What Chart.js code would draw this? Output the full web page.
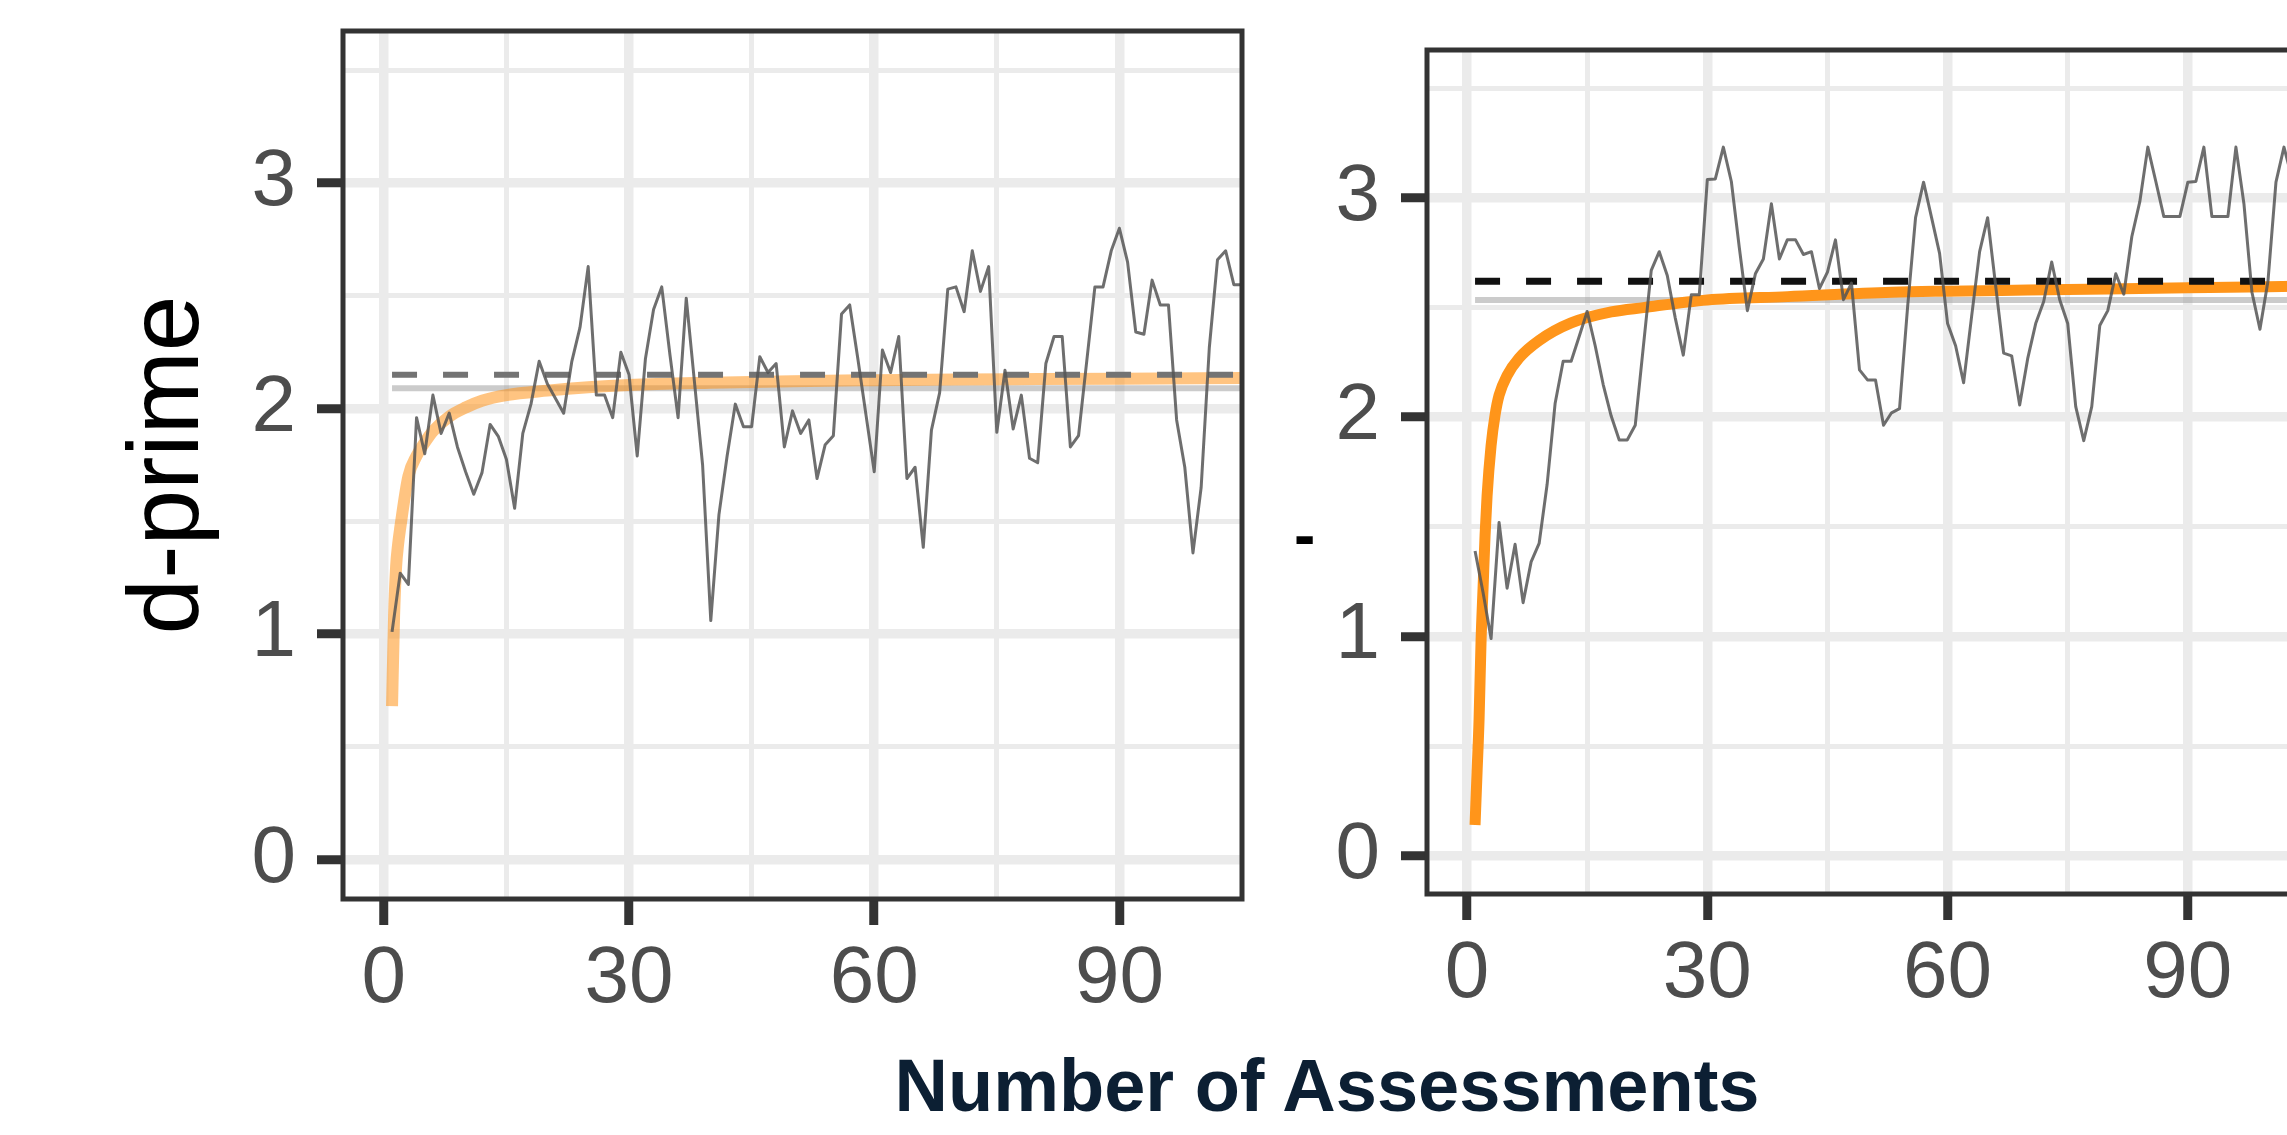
<!DOCTYPE html>
<html>
<head>
<meta charset="utf-8">
<script src="https://cdn.jsdelivr.net/npm/chart.js@4.4.1/dist/chart.umd.min.js"></script>
<style>
  html, body { margin: 0; padding: 0; width: 2287px; height: 1135px; overflow: hidden; background: #fff; }
  canvas { position: absolute; top: 0; }
  #chart1 { left: 0; }
  #chart2 { left: 1180px; }
  .label { position: absolute; font-family: 'Liberation Sans', Arial, sans-serif; line-height: 1; white-space: nowrap; }
  #xTitle { left: 727px; width: 1200px; top: 1049px; text-align: center; font-size: 74px; font-weight: bold; color: #0c1f33; }
  #stray { left: 1294px; top: 503px; font-size: 64px; font-weight: bold; color: #000; }
</style>
</head>
<body>
<canvas id="chart1" width="1270" height="1135"></canvas>
<canvas id="chart2" width="1150" height="1135"></canvas>
<div id="xTitle" class="label">Number of Assessments</div>
<div id="stray" class="label">-</div>
<script>
// axis breaks (minor breaks carry an empty label)
const xBreaks = [0, 15, 30, 45, 60, 75, 90];
const xLabels = ['0', '', '30', '', '60', '', '90'];
const yBreaks = [0, 0.5, 1, 1.5, 2, 2.5, 3, 3.5];
const yLabels = ['0', '', '1', '', '2', '', '3', ''];

// observed d-prime per assessment (assessment 1, 2, 3 ...)
const dprimeLeft = [
  1.01, 1.27, 1.22, 1.96, 1.80, 2.06, 1.89, 1.98, 1.83, 1.72,
  1.62, 1.715, 1.93, 1.877, 1.774, 1.558, 1.89, 2.02, 2.21, 2.11,
  2.045, 1.98, 2.21, 2.36, 2.63, 2.06, 2.06, 1.96, 2.25, 2.15,
  1.79, 2.22, 2.44, 2.54, 2.24, 1.96, 2.49, 2.12, 1.75, 1.06,
  1.53, 1.79, 2.02, 1.92, 1.92, 2.23, 2.16, 2.20, 1.83, 1.99,
  1.89, 1.95, 1.69, 1.84, 1.88, 2.42, 2.46, 2.22, 1.97, 1.72,
  2.26, 2.16, 2.32, 1.69, 1.74, 1.385, 1.905, 2.07, 2.53, 2.54,
  2.43, 2.70, 2.52, 2.63, 1.895, 2.17, 1.91, 2.06, 1.78, 1.76,
  2.20, 2.32, 2.32, 1.83, 1.88, 2.21, 2.54, 2.54, 2.70, 2.80,
  2.65, 2.34, 2.33, 2.57, 2.46, 2.46, 1.95, 1.74, 1.36, 1.65,
  2.27, 2.66, 2.70, 2.55, 2.55
];
const dprimeRight = [
  1.39, 1.20, 0.99, 1.52, 1.22, 1.42, 1.154, 1.34, 1.424, 1.694,
  2.064, 2.255, 2.255, 2.368, 2.482, 2.326, 2.149, 2.005, 1.896, 1.896,
  1.963, 2.317, 2.67, 2.755, 2.646, 2.452, 2.283, 2.558, 2.558, 3.084,
  3.087, 3.232, 3.075, 2.772, 2.486, 2.654, 2.722, 2.974, 2.722, 2.81,
  2.81, 2.742, 2.755, 2.587, 2.662, 2.809, 2.536, 2.612, 2.216, 2.17,
  2.17, 1.963, 2.02, 2.039, 2.50, 2.91, 3.072, 2.91, 2.747, 2.427,
  2.326, 2.157, 2.46, 2.755, 2.91, 2.60, 2.292, 2.28, 2.056, 2.267,
  2.427, 2.528, 2.708, 2.536, 2.427, 2.048, 1.893, 2.048, 2.418, 2.486,
  2.654, 2.561, 2.823, 2.983, 3.232, 3.075, 2.915, 2.915, 2.915, 3.072,
  3.075, 3.232, 2.915, 2.915, 2.915, 3.232, 2.974, 2.57, 2.401, 2.62,
  3.072, 3.232, 3.09
];

// fitted learning curves, read at sample points
const fitXLeft = [1, 1.25, 1.5, 1.75, 2, 3, 4, 5, 6, 8, 10, 12, 15, 20, 25, 30, 40, 50, 60, 70, 80, 90, 100, 105];
const fitYLeft = [0.68, 1.08, 1.30, 1.40, 1.47, 1.70, 1.79, 1.85, 1.90, 1.965, 2.005, 2.035, 2.06, 2.08, 2.095, 2.105, 2.115, 2.122, 2.126, 2.129, 2.131, 2.133, 2.135, 2.136];
const fitXRight = [1, 1.25, 1.5, 1.75, 2, 2.25, 2.5, 3, 3.5, 4, 5, 6.5, 9, 13, 18, 22, 30, 40, 53, 60, 70, 80, 90, 100, 105];
const fitYRight = [0.14, 0.38, 0.62, 0.98, 1.22, 1.46, 1.64, 1.87, 2.01, 2.10, 2.19, 2.27, 2.35, 2.43, 2.48, 2.50, 2.535, 2.55, 2.57, 2.575, 2.58, 2.585, 2.59, 2.595, 2.598];

// reference levels
const refStart = 1;
const refEnd = 105;
const meanLeft = 2.15;
const plateauLeft = 2.09;
const meanRight = 2.62;
const plateauRight = 2.535;

Chart.defaults.font.family = "'Liberation Sans', Arial, sans-serif";

const panelBorder = {
  id: 'panelBorder',
  afterDatasetsDraw(chart) {
    const { ctx, chartArea: a } = chart;
    ctx.save();
    ctx.strokeStyle = '#333333';
    ctx.lineWidth = 5;
    ctx.strokeRect(a.left, a.top, a.right - a.left, a.bottom - a.top);
    ctx.restore();
  }
};

function buildDatasets(series, fitX, fitY, meanY, plateauY, look) {
  const common = { pointRadius: 0, fill: false, clip: 0, tension: 0, borderJoinStyle: 'round' };
  return [
    { ...common, data: series.map((v, i) => ({ x: i + 1, y: v })), borderColor: 'rgba(85,85,85,0.85)', borderWidth: 3 },
    { ...common, data: [{ x: refStart, y: meanY }, { x: refEnd, y: meanY }], borderColor: look.dashColor, borderWidth: look.dashWidth, borderDash: [25, 26] },
    { ...common, data: fitX.map((x, i) => ({ x: x, y: fitY[i] })), borderColor: look.fitColor, borderWidth: look.fitWidth, cubicInterpolationMode: 'monotone' },
    { ...common, data: [{ x: refStart, y: plateauY }, { x: refEnd, y: plateauY }], borderColor: 'rgba(160,160,160,0.55)', borderWidth: 6 }
  ];
}

function gridFor(labels) {
  return {
    color: '#ebebeb',
    lineWidth: c => labels[c.index] ? 9.5 : 5,
    tickLength: 26,
    tickWidth: 9,
    tickColor: c => labels[c.index] ? '#333333' : 'rgba(0,0,0,0)'
  };
}

function makeChart(id, datasets, g) {
  return new Chart(document.getElementById(id), {
    type: 'line',
    data: { datasets },
    options: {
      responsive: false,
      animation: false,
      events: [],
      layout: { padding: { top: g.top, right: g.right, left: 0, bottom: 0 } },
      plugins: { legend: { display: false }, tooltip: { enabled: false } },
      scales: {
        x: {
          type: 'linear', min: -5, max: 105,
          afterBuildTicks: s => { s.ticks = xBreaks.map(v => ({ value: v })); },
          afterFit: s => { s.height = g.xAxisHeight; s.paddingLeft = 0; s.paddingRight = 0; },
          grid: gridFor(xLabels),
          border: { display: false },
          ticks: { autoSkip: false, maxRotation: 0, padding: 15, color: '#4d4d4d', font: { size: 80, lineHeight: 1 }, callback: (v, i) => xLabels[i] }
        },
        y: {
          type: 'linear', min: -0.175, max: 3.675,
          afterBuildTicks: s => { s.ticks = yBreaks.map(v => ({ value: v })); },
          afterFit: s => { s.width = g.yAxisWidth; s.paddingTop = 0; s.paddingBottom = 0; },
          grid: gridFor(yLabels),
          border: { display: false },
          title: { display: !!g.yTitle, text: g.yTitle || '', color: '#000000', font: { size: 100, lineHeight: 1.2 }, padding: { top: 110, bottom: 0 } },
          ticks: { autoSkip: false, padding: 21, color: '#4d4d4d', font: { size: 80, lineHeight: 1 }, callback: (v, i) => yLabels[i] }
        }
      }
    },
    plugins: [panelBorder]
  });
}

makeChart('chart1',
  buildDatasets(dprimeLeft, fitXLeft, fitYLeft, meanLeft, plateauLeft,
    { dashColor: '#737373', dashWidth: 6, fitColor: 'rgba(255,148,25,0.55)', fitWidth: 12 }),
  { top: 31, right: 28, yAxisWidth: 343, xAxisHeight: 236, yTitle: 'd-prime' });

makeChart('chart2',
  buildDatasets(dprimeRight, fitXRight, fitYRight, meanRight, plateauRight,
    { dashColor: '#111111', dashWidth: 7, fitColor: '#ff951a', fitWidth: 11 }),
  { top: 50, right: 22, yAxisWidth: 247, xAxisHeight: 241 });
</script>
</body>
</html>
